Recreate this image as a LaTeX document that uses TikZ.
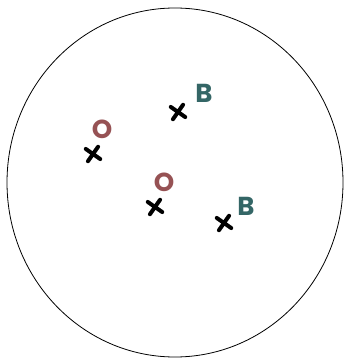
\documentclass[tikz,border=0pt]{standalone}
\usepackage{fontspec}
\setsansfont{Poppins}[BoldFont={* Bold}]
\usepackage{tikz}
\usetikzlibrary{shapes.misc}
\definecolor{ocolor}{RGB}{150,82,84}
\definecolor{bcolor}{RGB}{52,102,102}

\begin{document}
\begin{tikzpicture}[x=1pt, y=-1pt,
  ptmark/.style={cross out, draw=black, line width=4pt, minimum size=8.5pt,
    inner sep=0pt, line cap=round, rotate=10},
  olabel/.style={font=\sffamily\bfseries\fontsize{26}{26}\selectfont, text=ocolor, inner sep=0pt},
  blabel/.style={font=\sffamily\bfseries\fontsize{26}{26}\selectfont, text=bcolor, inner sep=0pt}
]
\useasboundingbox (0,0) rectangle (348,363);

% the outer region
\draw[line width=0.8pt] (175,182.5) ellipse [x radius=168, y radius=174.5];

% points
\node[ptmark] (p1) at (178,112) {};
\node[ptmark] (p2) at (93,154) {};
\node[ptmark] (p3) at (155,207) {};
\node[ptmark] (p4) at (224,223) {};

% labels
\node[blabel] (b1) at (204,93) {B};
\node[olabel] (o1) at (102,129) {O};
\node[olabel] (o2) at (164,182) {O};
\node[blabel] (b2) at (246,206) {B};

\end{tikzpicture}
\end{document}
